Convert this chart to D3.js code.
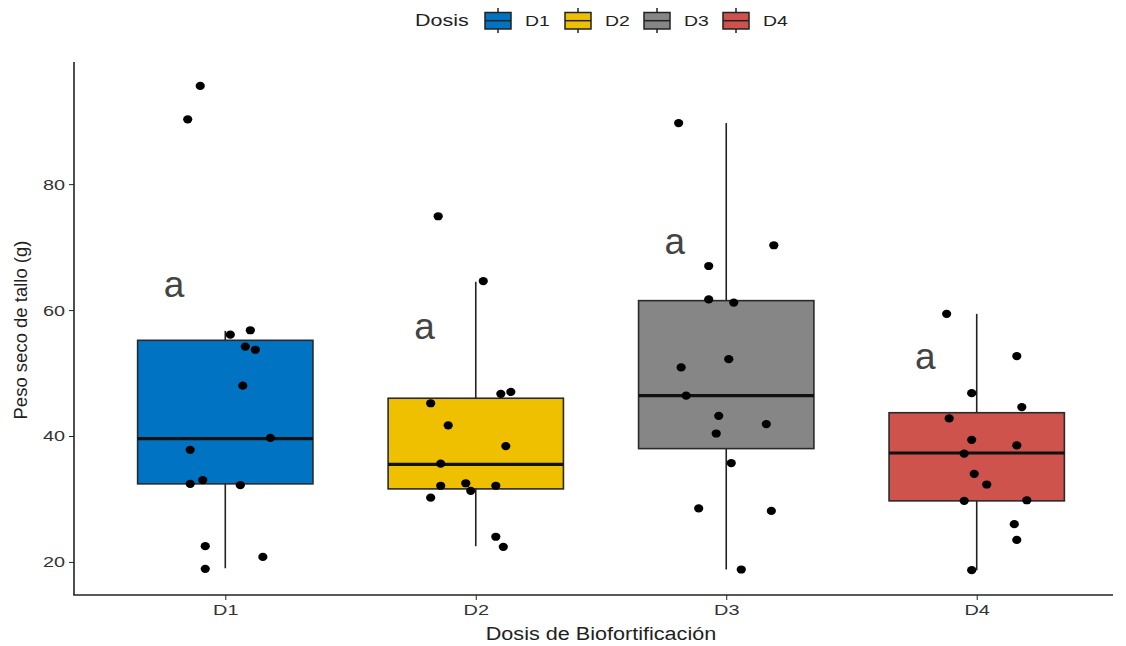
<!DOCTYPE html>
<html><head><meta charset="utf-8">
<script src="https://cdn.jsdelivr.net/npm/d3@7"></script>
<style>body{margin:0;background:#fff}svg{display:block;font-family:"Liberation Sans",Arial,sans-serif}</style>
</head><body><svg id="c" width="1126" height="646"></svg>
<script>
const categories = ["D1","D2","D3","D4"];
const colors = ["#0073C2","#EFC000","#868686","#CD534C"];
const yTicks = [20,40,60,80];
// box statistics: [whiskerLow, q1, median, q3, whiskerHigh]
const boxD1 = [19.0, 32.4, 39.6, 55.2, 56.7];
const boxD2 = [22.5, 31.6, 35.5, 46.0, 64.5];
const boxD3 = [18.8, 38.0, 46.4, 61.5, 89.7];
const boxD4 = [18.7, 29.7, 37.3, 43.7, 59.4];
// observations
const valsD1 = [95.6,90.3,56.1,56.8,54.2,53.7,48.0,39.7,37.8,33.0,32.4,32.2,22.5,20.8,18.9];
const valsD2 = [74.9,64.6,45.2,41.7,38.4,46.7,47.0,35.6,32.1,32.5,31.3,32.1,30.2,24.0,22.4];
const valsD3 = [89.7,70.3,67.0,61.7,61.2,52.2,50.9,46.4,43.2,41.9,40.4,35.7,28.5,28.1,18.8];
const valsD4 = [59.4,52.7,46.8,44.6,42.8,39.4,38.5,37.2,34.0,32.3,29.7,29.8,26.0,23.5,18.7];
// horizontal jitter, in category-step units
const jitD1 = [-0.10,-0.15,0.02,0.10,0.08,0.12,0.07,0.18,-0.14,-0.09,-0.14,0.06,-0.08,0.15,-0.08];
const jitD2 = [-0.15,0.03,-0.18,-0.11,0.12,0.10,0.14,-0.14,-0.14,-0.04,-0.02,0.08,-0.18,0.08,0.11];
const jitD3 = [-0.19,0.19,-0.07,-0.07,0.03,0.01,-0.18,-0.16,-0.03,0.16,-0.04,0.02,-0.11,0.18,0.06];
const jitD4 = [-0.12,0.16,-0.02,0.18,-0.11,-0.02,0.16,-0.05,-0.01,0.04,-0.05,0.20,0.15,0.16,-0.02];
// significance letters and their y-values
const letters = ["a","a","a","a"];
const letterY = [64.1, 57.5, 71.0, 52.7];

const boxes=[boxD1,boxD2,boxD3,boxD4];
const vals=[valsD1,valsD2,valsD3,valsD4];
const jits=[jitD1,jitD2,jitD3,jitD4];

const svg=d3.select("#c");
const x=d3.scalePoint().domain(categories).range([75,1127]).padding(0.6);
const step=x.step();
const y=d3.scaleLinear().domain([14.75,99.4]).range([595,62]);
const bw=step*0.7;

// horizontally widened text, as in the reference
function stretch(sel,k){
  sel.each(function(){
    const w=this.getComputedTextLength();
    d3.select(this).attr("textLength",w*k).attr("lengthAdjust","spacingAndGlyphs");
  });
}

// axes
const gy=svg.append("g").attr("transform","translate(74,0)")
  .call(d3.axisLeft(y).tickValues(yTicks).tickSize(5).tickPadding(4));
gy.select(".domain").remove();
gy.selectAll("line").attr("stroke","#222");
gy.selectAll("text").attr("font-size",15.5).attr("fill","#333").call(stretch,1.28);
svg.append("line").attr("x1",74).attr("x2",74).attr("y1",62).attr("y2",595).attr("stroke","#222").attr("stroke-width",1.6);

const gx=svg.append("g").attr("transform","translate(0,595)")
  .call(d3.axisBottom(x).tickSize(5).tickPadding(4));
gx.select(".domain").remove();
gx.selectAll("line").attr("stroke","#222");
gx.selectAll("text").attr("font-size",15.5).attr("fill","#333").call(stretch,1.28);
svg.append("line").attr("x1",73.2).attr("x2",1113).attr("y1",595).attr("y2",595).attr("stroke","#222").attr("stroke-width",1.6);

// boxes
categories.forEach((c,i)=>{
  const b=boxes[i], cx=x(c), g=svg.append("g");
  g.append("line").attr("x1",cx).attr("x2",cx).attr("y1",y(b[0])).attr("y2",y(b[1])).attr("stroke","#222").attr("stroke-width",1.6);
  g.append("line").attr("x1",cx).attr("x2",cx).attr("y1",y(b[3])).attr("y2",y(b[4])).attr("stroke","#222").attr("stroke-width",1.6);
  g.append("rect").attr("x",cx-bw/2).attr("width",bw).attr("y",y(b[3])).attr("height",y(b[1])-y(b[3]))
    .attr("fill",colors[i]).attr("stroke","#2a2a2a").attr("stroke-width",1.6);
  g.append("line").attr("x1",cx-bw/2).attr("x2",cx+bw/2).attr("y1",y(b[2])).attr("y2",y(b[2])).attr("stroke","#111").attr("stroke-width",3.2);
});
// points
categories.forEach((c,i)=>{
  svg.append("g").selectAll("ellipse").data(vals[i]).join("ellipse")
    .attr("cx",(d,k)=>x(c)+jits[i][k]*step).attr("cy",d=>y(d))
    .attr("rx",4.6).attr("ry",4.1).attr("fill","#000");
});
// letters
categories.forEach((c,i)=>{
  svg.append("text").attr("x",x(c)-0.205*step).attr("y",y(letterY[i])).attr("dy","0.35em")
    .attr("text-anchor","middle").attr("font-size",37).attr("fill","#444").text(letters[i]);
});
// axis titles
svg.append("text").attr("x",601).attr("y",640).attr("text-anchor","middle").attr("font-size",18).attr("fill","#222")
  .text("Dosis de Biofortificación").call(stretch,1.2);
svg.append("text").attr("transform","translate(27,330) rotate(-90)").attr("text-anchor","middle").attr("font-size",18.5).attr("fill","#222").text("Peso seco de tallo (g)");

// legend
const lg=svg.append("g");
lg.append("text").attr("x",415).attr("y",26).attr("font-size",16.5).attr("fill","#222").text("Dosis").call(stretch,1.3);
const keyX=[485,565,644,723];
categories.forEach((c,i)=>{
  const kx=keyX[i], g=lg.append("g");
  g.append("line").attr("x1",kx+13).attr("x2",kx+13).attr("y1",8).attr("y2",33).attr("stroke","#222").attr("stroke-width",1.5);
  g.append("rect").attr("x",kx).attr("y",12.5).attr("width",26).attr("height",16.5).attr("fill",colors[i]).attr("stroke","#222").attr("stroke-width",1.5);
  g.append("line").attr("x1",kx).attr("x2",kx+26).attr("y1",20.7).attr("y2",20.7).attr("stroke","#222").attr("stroke-width",1.5);
  g.append("text").attr("x",kx+40).attr("y",26).attr("font-size",15.5).attr("fill","#222").text(c).call(stretch,1.25);
});
</script></body></html>
